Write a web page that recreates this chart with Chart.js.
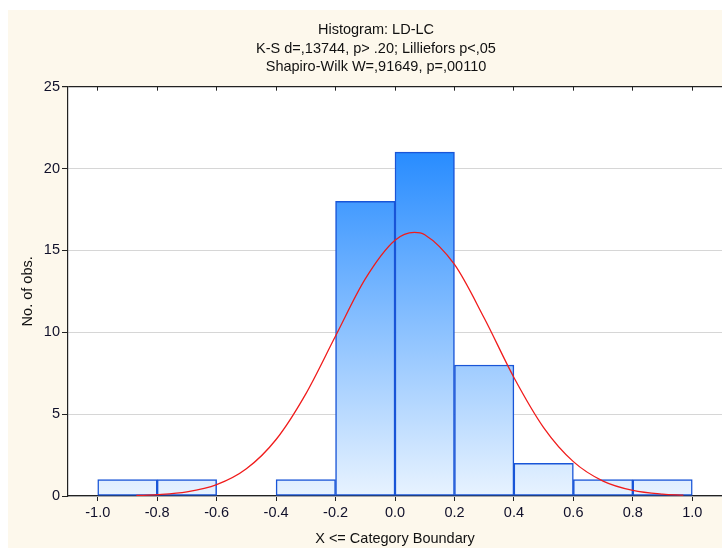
<!DOCTYPE html>
<html>
<head>
<meta charset="utf-8">
<script src="https://cdn.jsdelivr.net/npm/chart.js@4.4.1/dist/chart.umd.min.js"></script>
<style>
    body { margin: 0; background: #fff; }
    #wrap { width: 722px; height: 548px; }
</style>
</head>
<body>
<div id="wrap"><canvas id="histChart" width="722" height="548"></canvas></div>
<script>
// Centros de las clases del histograma (ancho 0.2)
var binCenters = [-0.9, -0.7, -0.5, -0.3, -0.1, 0.1, 0.3, 0.5, 0.7, 0.9];
// Numero de observaciones por clase
var binCounts = [1, 1, 0, 1, 18, 21, 8, 2, 1, 1];
// Curva normal ajustada
var curveX = [-0.87, -0.8, -0.7, -0.6, -0.5, -0.4, -0.3, -0.2, -0.1, 0.0, 0.065, 0.1, 0.2, 0.3, 0.4, 0.5, 0.6, 0.7, 0.8, 0.9, 0.97];
var curveY = [0.03, 0.08, 0.25, 0.69, 1.66, 3.45, 6.24, 9.77, 13.26, 15.62, 16.1, 15.96, 14.14, 10.87, 7.24, 4.18, 2.10, 0.91, 0.34, 0.11, 0.05];
// Etiquetas de los ejes
var xTicks = [-1.0, -0.8, -0.6, -0.4, -0.2, 0.0, 0.2, 0.4, 0.6, 0.8, 1.0];
var yTicks = [0, 5, 10, 15, 20, 25];
var titleLines = ['Histogram: LD-LC', 'K-S d=,13744, p> .20; Lilliefors p<,05', 'Shapiro-Wilk W=,91649, p=,00110'];

var FONT = 'Liberation Sans, Arial, sans-serif';
var FSIZE = 14.5;

var barData = [];
for (var i = 0; i < binCenters.length; i++) {
    barData.push({ x: binCenters[i], y: binCounts[i] === 0 ? null : binCounts[i] });
}
var curveData = [];
for (var j = 0; j < curveX.length; j++) {
    curveData.push({ x: curveX[j], y: curveY[j] });
}

// Fondo crema y area blanca del grafico
var backgroundPlugin = {
    id: 'bgPlugin',
    beforeDraw: function (chart) {
        var c = chart.ctx;
        var a = chart.chartArea;
        c.save();
        c.fillStyle = '#fff';
        c.fillRect(0, 0, chart.width, chart.height);
        c.fillStyle = '#fdf8ec';
        c.fillRect(8, 10, chart.width - 8, chart.height - 10);
        c.fillStyle = '#fff';
        c.fillRect(a.left, a.top, a.right - a.left, a.bottom - a.top);
        c.restore();
    }
};

function barGradient(context) {
    var chart = context.chart;
    var a = chart.chartArea;
    if (!a) return '#8cc3ff';
    var y = chart.scales.y;
    var g = chart.ctx.createLinearGradient(0, y.getPixelForValue(21), 0, y.getPixelForValue(0));
    g.addColorStop(0, 'rgb(40,140,255)');
    g.addColorStop(1, 'rgb(232,243,255)');
    return g;
}

function setXTicks(axis) {
    axis.ticks = xTicks.map(function (v) { return { value: v }; });
}

new Chart(document.getElementById('histChart').getContext('2d'), {
    data: {
        datasets: [
            {
                type: 'line',
                label: 'Normal',
                data: curveData,
                borderColor: '#f01c1c',
                borderWidth: 1.3,
                pointRadius: 0,
                tension: 0.4,
                cubicInterpolationMode: 'monotone',
                order: 0
            },
            {
                type: 'bar',
                label: 'No. of obs.',
                data: barData,
                backgroundColor: barGradient,
                borderColor: 'rgb(25,85,215)',
                borderWidth: 1.5,
                borderSkipped: false,
                barPercentage: 1,
                categoryPercentage: 1,
                order: 1
            }
        ]
    },
    options: {
        responsive: false,
        animation: false,
        layout: { padding: { left: 30, right: 0, top: 0, bottom: 0 } },
        plugins: {
            legend: { display: false },
            tooltip: { enabled: false },
            title: {
                display: true,
                text: titleLines,
                color: '#111',
                font: { family: FONT, size: FSIZE, weight: 'normal', lineHeight: 1.28 },
                padding: { top: 21, bottom: 10 }
            }
        },
        scales: {
            x: {
                type: 'linear',
                min: -1.1,
                max: 1.1,
                offset: false,
                afterBuildTicks: setXTicks,
                afterFit: function (axis) { axis.height = 52; },
                ticks: {
                    color: '#10102a',
                    font: { family: FONT, size: FSIZE },
                    padding: 3,
                    maxRotation: 0,
                    callback: function (v) { return v.toFixed(1); }
                },
                grid: { offset: false, drawOnChartArea: false, drawTicks: true, tickLength: 5, tickColor: '#222' },
                border: { color: '#222', width: 1.2 },
                title: {
                    display: true,
                    text: 'X <= Category Boundary',
                    color: '#111',
                    font: { family: FONT, size: FSIZE },
                    padding: { top: 2, bottom: 0 }
                }
            },
            // Marcas pequenas en el borde superior
            xTop: {
                type: 'linear',
                position: 'top',
                display: true,
                min: -1.1,
                max: 1.1,
                offset: false,
                afterBuildTicks: setXTicks,
                afterFit: function (axis) { axis.height = 0; },
                ticks: { display: false },
                grid: { offset: false, drawOnChartArea: false, drawTicks: true, tickLength: -4, tickColor: '#222' },
                border: { display: false }
            },
            y: {
                min: 0,
                max: 25,
                afterBuildTicks: function (axis) {
                    axis.ticks = yTicks.map(function (v) { return { value: v }; });
                },
                afterFit: function (axis) { axis.width = 38; },
                ticks: {
                    color: '#10102a',
                    font: { family: FONT, size: FSIZE },
                    padding: 2
                },
                grid: {
                    color: function (ctx) {
                        return ctx.tick && ctx.tick.value === 25 ? '#222' : '#d6d6d6';
                    },
                    lineWidth: function (ctx) {
                        return ctx.tick && ctx.tick.value === 25 ? 1.2 : 1;
                    },
                    tickLength: 6,
                    tickColor: '#222'
                },
                border: { color: '#222', width: 1.2 },
                title: {
                    display: true,
                    text: 'No. of obs.',
                    color: '#111',
                    font: { family: FONT, size: FSIZE },
                    padding: { top: -11, bottom: 0 }
                }
            }
        }
    },
    plugins: [backgroundPlugin]
});
</script>
</body>
</html>
